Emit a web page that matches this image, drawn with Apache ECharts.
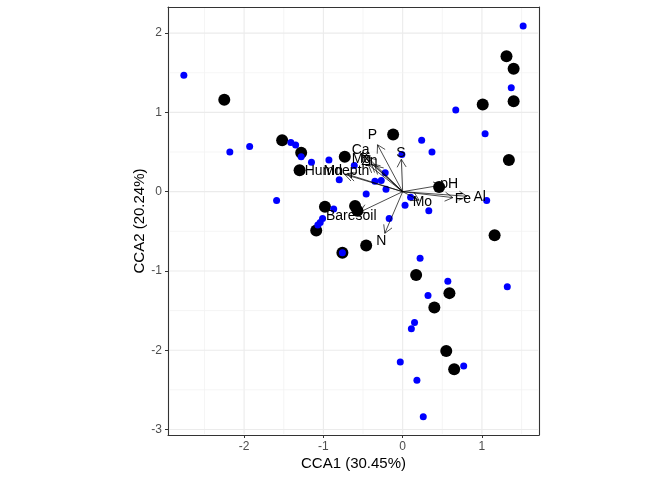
<!DOCTYPE html>
<html>
<head>
<meta charset="utf-8">
<script src="https://cdn.jsdelivr.net/npm/echarts@6/dist/echarts.min.js"></script>
<style>
html,body{margin:0;padding:0;background:#fff;}
#chart{width:672px;height:480px;}
</style>
</head>
<body>
<div id="chart"></div>
<script>
// Site scores (black)
var siteX = [-2.25,1.31,1.40,1.40,1.01,-0.12,-1.52,-1.28,-0.73,-1.30,0.46,1.34,-0.98,-0.60,-0.57,-1.09,-0.46,-0.76,1.16,0.17,0.59,0.40,0.55,0.65];
var siteY = [1.16,1.71,1.55,1.14,1.10,0.72,0.65,0.49,0.44,0.27,0.06,0.40,-0.19,-0.18,-0.24,-0.49,-0.68,-0.77,-0.55,-1.05,-1.28,-1.46,-2.01,-2.24];
// Species scores (blue)
var specX = [-2.76,1.52,1.37,0.67,1.04,0.24,0.37,-0.01,-2.18,-1.93,-1.41,-1.35,-1.28,-1.15,-0.93,-0.61,-0.80,-0.22,-0.35,-0.27,-0.21,-0.46,-1.59,-0.87,-1.01,-1.04,-1.07,-0.76,-0.17,0.03,0.10,0.33,1.06,0.22,0.57,0.32,0.15,0.11,1.32,-0.03,0.77,0.18,0.26];
var specY = [1.47,2.09,1.31,1.03,0.73,0.65,0.50,0.47,0.50,0.57,0.62,0.59,0.44,0.37,0.40,0.33,0.15,0.24,0.13,0.14,0.03,-0.03,-0.11,-0.22,-0.34,-0.39,-0.42,-0.77,-0.34,-0.17,-0.07,-0.24,-0.11,-0.84,-1.13,-1.31,-1.65,-1.73,-1.20,-2.15,-2.20,-2.38,-2.84];
// Environmental biplot arrows
var envNames = ['P','S','Ca','Mg','Zn','K','Mn','Humdepth','pH','Al','Fe','Mo','Baresoil','N'];
var envX = [-0.317,-0.017,-0.442,-0.433,-0.350,-0.390,-0.730,-0.690,0.490,0.810,0.633,0.208,-0.540,-0.225];
var envY = [0.592,0.408,0.433,0.342,0.325,0.350,0.217,0.217,0.083,-0.058,-0.075,-0.108,-0.258,-0.525];
var labelMult = 1.2;
// Axis breaks
var xMajor = [-2,-1,0,1];
var xMinor = [-2.5,-1.5,-0.5,0.5,1.5];
var yMajor = [-3,-2,-1,0,1,2];
var yMinor = [-2.5,-1.5,-0.5,0.5,1.5];
var xTitle = 'CCA1 (30.45%)';
var yTitle = 'CCA2 (20.24%)';

var FONT = "'Liberation Sans', Arial, sans-serif";

function zip(a,b){ return a.map(function(v,i){return [v,b[i]];}); }

var gridData = [];
xMajor.forEach(function(v){gridData.push([v,0,1]);});
xMinor.forEach(function(v){gridData.push([v,0,0]);});
yMajor.forEach(function(v){gridData.push([v,1,1]);});
yMinor.forEach(function(v){gridData.push([v,1,0]);});

var chart = echarts.init(document.getElementById('chart'));
chart.setOption({
  animation:false,
  backgroundColor:'#fff',
  grid:{left:168,top:7,width:371,height:428,show:false},
  xAxis:[{
    type:'value',min:-2.96,max:1.72,
    axisLine:{show:true,onZero:false,lineStyle:{color:'#333333',width:1.1}},
    splitLine:{show:false},
    axisTick:{show:true,length:3,lineStyle:{color:'#333333',width:1},customValues:xMajor},
    axisLabel:{color:'#4d4d4d',fontSize:12,fontFamily:FONT,margin:6,customValues:xMajor},
    name:xTitle,nameLocation:'middle',nameGap:21,nameMoveOverlap:false,
    nameTextStyle:{color:'#000',fontSize:15,fontFamily:FONT}
  },{
    type:'value',min:-2.96,max:1.72,position:'top',
    axisLine:{show:true,onZero:false,lineStyle:{color:'#333333',width:1.1}},
    splitLine:{show:false},axisTick:{show:false},axisLabel:{show:false}
  }],
  yAxis:[{
    type:'value',min:-3.07,max:2.33,
    axisLine:{show:true,onZero:false,lineStyle:{color:'#333333',width:1.1}},
    splitLine:{show:false},
    axisTick:{show:true,length:3,lineStyle:{color:'#333333',width:1},customValues:yMajor},
    axisLabel:{color:'#4d4d4d',fontSize:12,fontFamily:FONT,margin:6,customValues:yMajor},
    name:yTitle,nameLocation:'middle',nameGap:21,nameMoveOverlap:false,
    nameTextStyle:{color:'#000',fontSize:15,fontFamily:FONT}
  },{
    type:'value',min:-3.07,max:2.33,position:'right',
    axisLine:{show:true,onZero:false,lineStyle:{color:'#333333',width:1.1}},
    splitLine:{show:false},axisTick:{show:false},axisLabel:{show:false}
  }],
  series:[
    {
      type:'custom',z:1,silent:true,
      data:gridData,
      renderItem:function(params,api){
        var cs = params.coordSys;
        var v = api.value(0), dir = api.value(1), major = api.value(2);
        var style = {stroke: major? '#ebebeb':'#f2f2f2', lineWidth: major?1.1:0.8};
        if(dir===0){
          var px = api.coord([v,0])[0];
          return {type:'line',shape:{x1:px,y1:cs.y+1,x2:px,y2:cs.y+cs.height-1},style:style};
        } else {
          var py = api.coord([0,v])[1];
          return {type:'line',shape:{x1:cs.x+1,y1:py,x2:cs.x+cs.width-1,y2:py},style:style};
        }
      }
    },
    {
      type:'scatter',z:3,silent:true,
      data:zip(siteX,siteY),
      symbol:'circle',symbolSize:12,
      itemStyle:{color:'#000000',opacity:1}
    },
    {
      type:'scatter',z:4,silent:true,
      data:zip(specX,specY),
      symbol:'circle',symbolSize:7,
      itemStyle:{color:'#0000ff',opacity:1}
    },
    {
      type:'custom',z:5,silent:true,
      data:zip(envX,envY),
      renderItem:function(params,api){
        var o = api.coord([0,0]);
        var t = api.coord([api.value(0),api.value(1)]);
        var ang = Math.atan2(t[1]-o[1], t[0]-o[0]);
        var L = 9, a = Math.PI/6;
        var h1 = [t[0]-L*Math.cos(ang-a), t[1]-L*Math.sin(ang-a)];
        var h2 = [t[0]-L*Math.cos(ang+a), t[1]-L*Math.sin(ang+a)];
        var st = {stroke:'#000',lineWidth:0.7,fill:null};
        return {type:'group',children:[
          {type:'line',shape:{x1:o[0],y1:o[1],x2:t[0],y2:t[1]},style:st},
          {type:'polyline',shape:{points:[h1,t,h2]},style:st}
        ]};
      }
    },
    {
      type:'custom',z:6,silent:true,
      data:envNames.map(function(n,i){return [envX[i]*labelMult, envY[i]*labelMult, i];}),
      renderItem:function(params,api){
        var p = api.coord([api.value(0),api.value(1)]);
        return {type:'text',x:p[0],y:p[1],style:{text:envNames[api.value(2)],fill:'#000',font:'14px '+FONT,align:'center',verticalAlign:'middle'}};
      }
    }
  ]
});
</script>
</body>
</html>
